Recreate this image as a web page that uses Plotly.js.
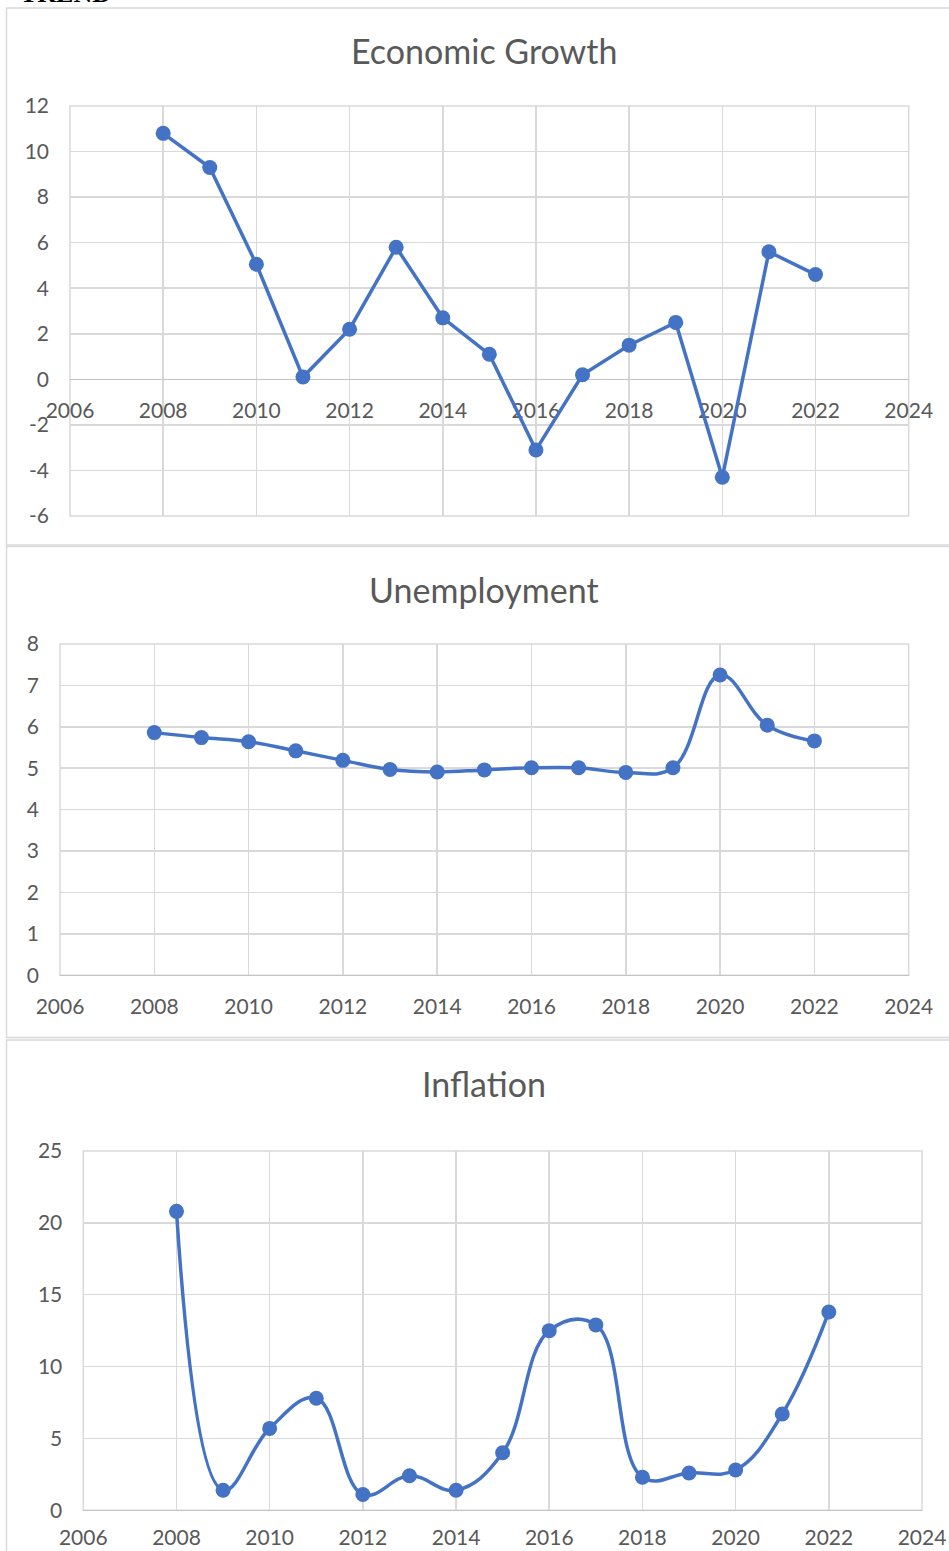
<!DOCTYPE html>
<html>
<head>
<meta charset="utf-8">
<script src="https://cdn.plot.ly/plotly-3.0.1.min.js"></script>
<style>
  html, body { margin: 0; padding: 0; background: #fff; }
  #chart { width: 949px; height: 1551px; }
</style>
</head>
<body>
<div id="chart"></div>
<script>
// ---- Data ----
const years = [2008, 2009, 2010, 2011, 2012, 2013, 2014, 2015, 2016, 2017, 2018, 2019, 2020, 2021, 2022];
const growth = [10.8, 9.3, 5.05, 0.1, 2.2, 5.8, 2.7, 1.1, -3.1, 0.2, 1.5, 2.5, -4.3, 5.6, 4.6];
const unemployment = [5.86, 5.74, 5.64, 5.42, 5.19, 4.97, 4.91, 4.96, 5.01, 5.01, 4.90, 5.01, 7.25, 6.04, 5.66];
const inflation = [20.8, 1.4, 5.7, 7.8, 1.1, 2.4, 1.4, 4.0, 12.5, 12.9, 2.3, 2.6, 2.8, 6.7, 13.8];
const growthTicks = [-6, -4, -2, 0, 2, 4, 6, 8, 10, 12];
const growthTickText = ["-6", "-4", "-2", "0", "2", "4", "6", "8", "10", "12"];
const chartTitles = ["Economic Growth", "Unemployment", "Inflation"];
const headerText = "TREND";

// ---- Layout helpers ----
const W = 949, H = 1551;
const fx = x => x / W;
const fy = y => 1 - y / H;
const FONT = "Lato, 'Open Sans', sans-serif";
const TXT = "#595959";
const GRID = "#d9d9d9";
const BLUE = "#4472C4";

function xAx(d0, d1, extra) {
  return Object.assign({
    domain: [fx(d0), fx(d1)], range: [2006, 2024], dtick: 2, tick0: 2006,
    showgrid: true, gridcolor: GRID, gridwidth: 1.5, zeroline: false, showline: false,
    ticks: "", tickfont: { family: FONT, size: 21, color: TXT }, ticklabelstandoff: 17,
    fixedrange: true, layer: "below traces"
  }, extra || {});
}
function yAx(top, bottom, range, dtick, anchor) {
  return {
    domain: [fy(bottom), fy(top)], range: range, dtick: dtick, anchor: anchor,
    showgrid: true, gridcolor: GRID, gridwidth: 1.5,
    zeroline: true, zerolinecolor: "#c4c4c4", zerolinewidth: 1.5, showline: false,
    ticks: "", tickfont: { family: FONT, size: 21, color: TXT }, ticklabelstandoff: 20,
    fixedrange: true, layer: "below traces"
  };
}

const y1 = Object.assign(yAx(106, 516, [-6, 12], 2, "x"),
  { tickmode: "array", tickvals: growthTicks, ticktext: growthTickText });
const pos1 = y1.domain[0] + (0 - (-6)) / 18 * (y1.domain[1] - y1.domain[0]);

const line = { color: BLUE, width: 3.5 };
const marker = { color: BLUE, size: 15 };

const traces = [
  { x: years, y: growth, xaxis: "x", yaxis: "y", mode: "lines+markers", line: line, marker: marker, hoverinfo: "skip" },
  { x: years, y: unemployment, xaxis: "x2", yaxis: "y2", mode: "lines+markers",
    line: Object.assign({ shape: "spline", smoothing: 1.15 }, line), marker: marker, hoverinfo: "skip" },
  { x: years, y: inflation, xaxis: "x3", yaxis: "y3", mode: "lines+markers",
    line: Object.assign({ shape: "spline", smoothing: 1.15 }, line), marker: marker, hoverinfo: "skip" }
];

function frame(top, bottom) {
  return { type: "rect", xref: "paper", yref: "paper", x0: fx(6.5), x1: 1.05, y0: fy(bottom), y1: fy(top),
           line: { color: GRID, width: 1.5 }, fillcolor: "rgba(0,0,0,0)", layer: "below" };
}
function plotBox(xr, yr) {
  return { type: "rect", xref: xr + " domain", yref: yr + " domain", x0: 0, x1: 1, y0: 0, y1: 1,
           line: { color: GRID, width: 1.5 }, fillcolor: "rgba(0,0,0,0)", layer: "below" };
}
function title(text, yc) {
  return { text: text, xref: "paper", yref: "paper", x: fx(484), y: fy(yc), xanchor: "center", yanchor: "middle",
           showarrow: false, font: { family: FONT, size: 34, color: TXT } };
}

const layout = {
  width: W, height: H, margin: { l: 0, r: 0, t: 0, b: 0 },
  paper_bgcolor: "#fff", plot_bgcolor: "rgba(0,0,0,0)", showlegend: false,
  xaxis: xAx(70, 908.7, { anchor: "free", position: pos1 }),
  yaxis: y1,
  xaxis2: xAx(60, 908.7, { anchor: "y2" }),
  yaxis2: yAx(644, 975.3, [0, 8], 1, "x2"),
  xaxis3: xAx(83.3, 922, { anchor: "y3", ticklabelstandoff: 13 }),
  yaxis3: yAx(1151, 1510.3, [0, 25], 5, "x3"),
  shapes: [frame(8, 545), frame(546.5, 1037.5), frame(1040, 1600),
           plotBox("x", "y"), plotBox("x2", "y2"), plotBox("x3", "y3")],
  annotations: [
    title(chartTitles[0], 51), title(chartTitles[1], 589), title(chartTitles[2], 1083),
    { text: "<b>" + headerText + "</b>", xref: "paper", yref: "paper", x: fx(18), y: 1, xanchor: "left", yanchor: "bottom",
      yshift: -10, showarrow: false, font: { family: "'Liberation Serif', serif", size: 26, color: "#000" } }
  ]
};

Plotly.newPlot("chart", traces, layout, { staticPlot: true, displayModeBar: false });
</script>
</body>
</html>
